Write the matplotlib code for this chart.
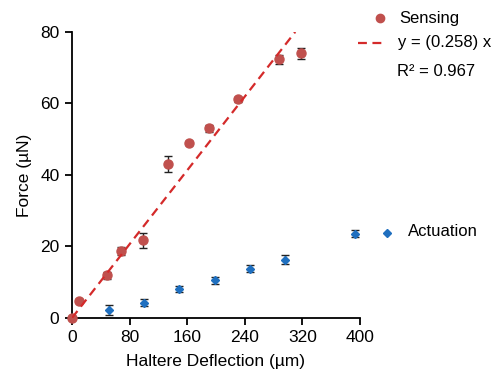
import matplotlib
matplotlib.use("Agg")
import matplotlib.pyplot as plt
import numpy as np

plt.rcParams['font.family'] = ['Liberation Sans', 'DejaVu Sans']

sens_x = [0, 10, 49, 68, 98, 134, 162, 191, 231, 288, 318]
sens_y = [0, 4.8, 11.9, 18.7, 21.7, 43.0, 49.0, 53.0, 61.1, 72.3, 74.0]
sens_err = [0, 0.4, 0.9, 1.1, 2.1, 2.2, 0.6, 1.1, 0.6, 1.2, 1.5]

act_x = [0, 51, 100, 148, 198, 247, 296, 393]
act_y = [0, 2.2, 4.3, 8.2, 10.5, 13.8, 16.3, 23.6]
act_err = [0, 1.3, 1.0, 0.8, 0.9, 0.9, 1.2, 0.9]

slope = 0.258
r2 = 0.967
xticks = [0, 80, 160, 240, 320, 400]
yticks = [0, 20, 40, 60, 80]

red = '#c0504d'
blue = '#1f6fbf'
fitc = '#d42a2a'
fs = 12.5
lfs = 12

fig = plt.figure(figsize=(4.94, 3.84), dpi=100)
ax = fig.add_axes([0.1457, 0.1719, 0.583, 0.745])

fx = np.array([0, 80 / slope])
ax.plot(fx, slope * fx, '--', color=fitc, lw=1.6, dashes=(4, 2.5), zorder=4)

e1 = ax.errorbar(act_x, act_y, yerr=act_err, fmt='D', color=blue, ms=4.5,
                 ecolor='#222222', elinewidth=1, capsize=3, capthick=1, zorder=3)
e2 = ax.errorbar(sens_x, sens_y, yerr=sens_err, fmt='o', color=red, ms=6.5,
                 ecolor='#222222', elinewidth=1, capsize=3, capthick=1, zorder=3)
for e in (e1, e2):
    e[0].set_clip_on(False)

ax.set_xlim(0, 400)
ax.set_ylim(0, 80)
ax.set_xticks(xticks)
ax.set_yticks(yticks)
ax.spines['top'].set_visible(False)
ax.spines['right'].set_visible(False)
ax.spines['left'].set_linewidth(1.3)
ax.spines['bottom'].set_linewidth(1.3)
ax.tick_params(direction='out', length=5, width=1.3, labelsize=fs, colors='black', pad=4)
ax.set_xlabel('Haltere Deflection (µm)', fontsize=fs, labelpad=6)
ax.set_ylabel('Force (µN)', fontsize=fs, labelpad=6)

def fxp(px):
    return px / 494
def fyp(py):
    return 1 - py / 384

fig.lines.append(plt.Line2D([fxp(380)], [fyp(18)], marker='o', color=red, ms=6, transform=fig.transFigure))
fig.text(fxp(399), fyp(18), 'Sensing', fontsize=lfs, va='center')
fig.lines.append(plt.Line2D([fxp(358), fxp(385)], [fyp(43), fyp(43)], ls='--', color=fitc, lw=1.6,
                            dashes=(4, 2.5), transform=fig.transFigure))
fig.text(fxp(398), fyp(43), 'y = (0.258) x', fontsize=lfs, va='center')
fig.text(fxp(397), fyp(71), 'R² = 0.967', fontsize=lfs, va='center')
fig.lines.append(plt.Line2D([fxp(387)], [fyp(233)], marker='D', color=blue, ms=4.5, transform=fig.transFigure))
fig.text(fxp(408), fyp(232), 'Actuation', fontsize=lfs, va='center')

fig.savefig('out.png', dpi=100)
